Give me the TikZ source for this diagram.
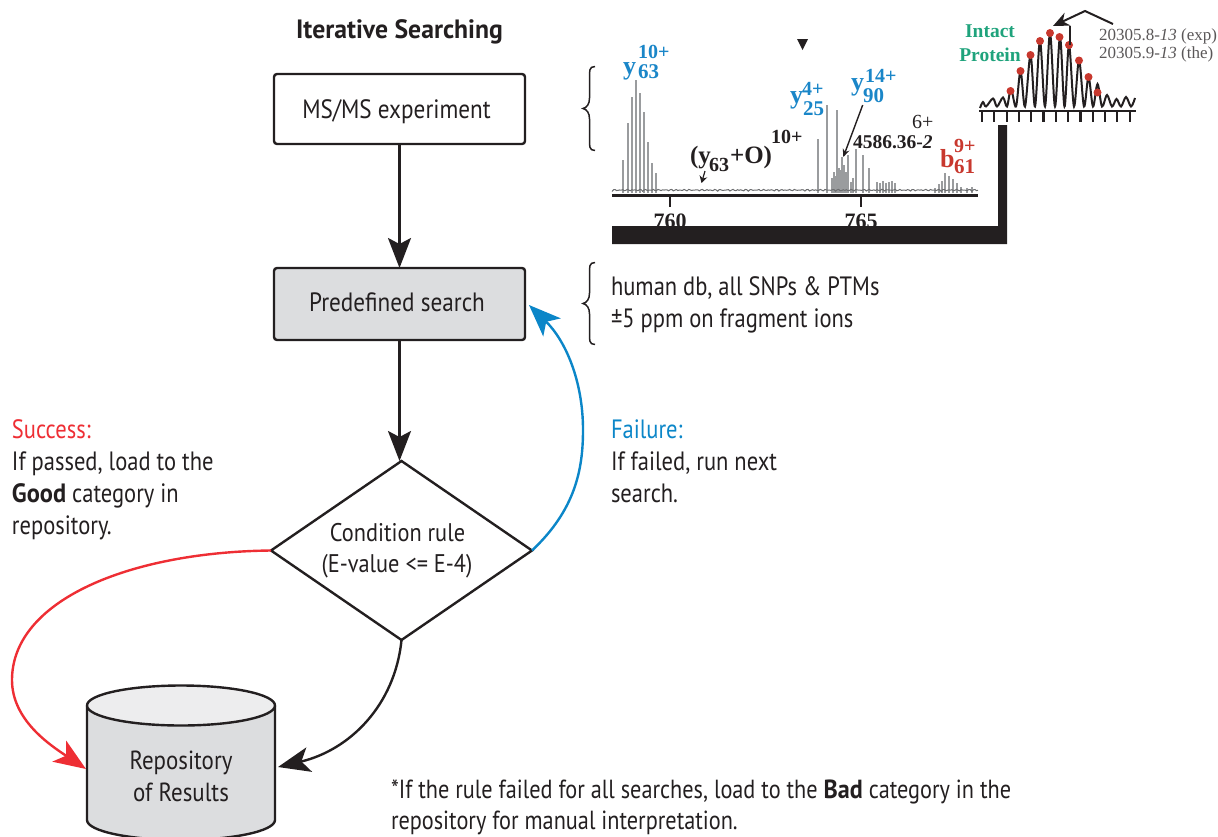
\documentclass[tikz,border=0pt]{standalone}
\usepackage{fontspec}
\usetikzlibrary{shapes.geometric,arrows.meta}
\setmainfont[FakeStretch=0.85,BoldFeatures={FakeStretch=0.92}]{PT Sans}
\newfontfamily\fb[FakeStretch=0.875]{PT Sans}
\newfontfamily\tb[FakeStretch=0.97]{PT Sans}
\newfontfamily\sr{Liberation Serif}
\definecolor{boxgray}{HTML}{DCDDDF}
\definecolor{lidgray}{HTML}{EDEDEE}
\definecolor{inkk}{HTML}{231F20}
\definecolor{redc}{HTML}{EE2E34}
\definecolor{bluec}{HTML}{0B86C8}
\definecolor{specblue}{HTML}{1A86C8}
\definecolor{specred}{HTML}{C8382E}
\definecolor{specgreen}{HTML}{1FA37C}
\definecolor{specgray}{HTML}{9A9C9E}
\tikzset{
 every node/.style={inner sep=0pt,outer sep=0pt,text=inkk},
 body/.style={font=\fontsize{26.5}{32}\selectfont,align=left,anchor=north west},
 flowbox/.style={draw=inkk,line width=2.4pt,rounded corners=3pt,font=\fb\fontsize{26.5}{32}\selectfont,minimum width=251pt},
 conn/.style={draw=inkk,line width=2.4pt,-{Stealth[length=30pt,width=23pt,inset=6pt]}},
 thinconn/.style={line width=2.4pt,-{Stealth[length=32pt,width=25pt,inset=8pt]}},
 bracel/.style={draw=inkk,line width=1.5pt},
 sb/.style={font=\sr\bfseries\fontsize{26}{26}\selectfont,anchor=base west},
 ss/.style={font=\sr\bfseries\fontsize{21}{21}\selectfont,anchor=base west},
 sc/.style={font=\sr\bfseries\fontsize{20}{20}\selectfont,anchor=base west},
 rb/.style={font=\sr\bfseries\fontsize{25}{25}\selectfont,anchor=base west},
 rs/.style={font=\sr\fontsize{20}{20}\selectfont,anchor=base west},
 peak/.style={draw=specgray,line width=1.8pt},
 dot/.style={fill=specred,draw=none}
}
\begin{document}
\begin{tikzpicture}[x=1pt,y=-1pt]
\useasboundingbox (0,0) rectangle (1218,836);
% flow
\node[font=\tb\bfseries\fontsize{26.5}{32}\selectfont] (title) at (399.5,32) {Iterative Searching};
\node[flowbox,minimum height=70pt,fill=white,text height=18pt,text depth=0pt] (ms) at (399.5,109) {\mbox{MS/MS experiment\hspace{6pt}}};
\node[flowbox,minimum height=72pt,fill=boxgray,text height=18pt,text depth=4pt] (pre) at (399.5,304) {\mbox{Predefined search\hspace{5pt}}};
\node[draw=inkk,line width=2.4pt,fill=white,diamond,aspect=1.46,minimum width=261pt,minimum height=179pt,align=center,font=\fb\fontsize{25.5}{31}\selectfont] (cond) at (401.5,550.5) {\mbox{Condition rule\hspace{8pt}}\\\mbox{(E-value <= E-4)\hspace{9pt}}};
% cylinder
\fill[boxgray] (87,705.5) -- (87,820) arc[start angle=180,end angle=360,x radius=94pt,y radius=20pt] -- (275,705.5) -- cycle;
\draw[inkk,line width=2.4pt] (87,705.5) -- (87,820) arc[start angle=180,end angle=360,x radius=94pt,y radius=20pt] -- (275,705.5);
\draw[inkk,line width=2.4pt,fill=lidgray] (181,705.5) ellipse[x radius=94pt,y radius=20pt];
\node[font=\fb\fontsize{26.2}{32}\selectfont,align=center] (repo) at (181,776) {Repository\\of Results};
\coordinate (repoW) at (86,769);
\coordinate (repoE) at (278,767);
% connectors
\draw[conn] (ms) -- (pre);
\draw[conn] (pre.south) -- (pre.south |- cond.north);
\draw[thinconn,redc] (cond.west) .. controls (130,552) and (12,600) .. (12,680) .. controls (12,720) and (50,745) .. (repoW);
\draw[thinconn,inkk] (cond.south) .. controls (395,705) and (350,750) .. (repoE);
\coordinate (preE) at (529,305);
\draw[thinconn,bluec] (cond.east) .. controls (575,510) and (583,470) .. (583,430) .. controls (583,380) and (565,340) .. (preE);
% text
\node[body,text=redc] (succ) at (12,419.5) {Success:};
\node[body] (succb) at (12,451.5) {If passed, load to the\\\textbf{Good} category in\\repository.};
\node[body,text=bluec] (fail) at (611,419.5) {Failure:};
\node[body] (failb) at (611,451.5) {If failed, run next\\search.};
\node[body] (db) at (611,276.5) {human db, all SNPs \& PTMs\\±5 ppm on fragment ions};
\node[body,font=\fontsize{26.2}{31.5}\selectfont] (note) at (391,779.5) {*If the rule failed for all searches, load to the \textbf{Bad} category in the\\repository for manual interpretation.};
% braces
\draw[bracel] (595,66.5) .. controls (589,66.5) and (589.5,71) .. (589.5,78) -- (589.5,98) .. controls (589.5,104) and (587,107.5) .. (583,108.5) .. controls (587,109.5) and (589.5,113) .. (589.5,119) -- (589.5,139) .. controls (589.5,146) and (589,150.5) .. (595,150.5);
\draw[bracel] (595,262.5) .. controls (589,262.5) and (589.5,267) .. (589.5,274) -- (589.5,293) .. controls (589.5,299) and (587,302.5) .. (583,303.5) .. controls (587,304.5) and (589.5,308) .. (589.5,314) -- (589.5,333) .. controls (589.5,340) and (589,344.5) .. (595,344.5);
% left spectrum
\foreach \x/\t in {623.3/160,627.7/123,632/97,636/80,640/93,644/112,648.3/142,652.3/163,656/173,817.7/139,827/105,837/110,842/157,848.3/155,856/149,863.3/155,869.3/168}
  \draw[peak] (\x,193) -- (\x,\t);
\foreach \x/\t in {832/178,834/172,836/176,839/168,841/170,844/165,846/172,851/182,853/178,877/182,880/183,883/181,886/183,889/182,892/181,895/183,935/188,939/184,942/181,945/173,949/176,953/179,957/183,961/187,967/188,972/187}
  \draw[draw=specgray,line width=1.4pt] (\x,193) -- (\x,\t);
\draw[specgray!70!black,line width=1pt] plot[domain=612:978,samples=240] (\x,{191.5-1.2*abs(sin((\x-612)*41))-1*abs(sin((\x-612)*29))});
\draw[inkk,line width=2.2pt] (612,195.5) -- (978,195.5);
\draw[inkk,line width=2pt] (670,196) -- (670,207);
\draw[inkk,line width=2pt] (861,196) -- (861,207);
\node[font=\sr\bfseries\fontsize{22}{22}\selectfont,anchor=base] (t760) at (670,228) {760};
\node[font=\sr\bfseries\fontsize{22}{22}\selectfont,anchor=base] (t765) at (861,228) {765};
\fill[inkk] (612,226) -- (998,226) -- (998,125) -- (1007,125) -- (1007,244) -- (612,244) -- cycle;
\fill[inkk] (797,39) -- (808,39) -- (802.5,50) -- cycle;
% labels
\node[sb,text=specblue] (y1) at (623,74) {y};
\node[ss,text=specblue] (y1s) at (638,78) {63};
\node[sc,text=specblue] (y1c) at (638,58) {10+};
\node[sb,text=specblue] (y2) at (790,103) {y};
\node[ss,text=specblue] (y2s) at (803,115) {25};
\node[sc,text=specblue] (y2c) at (802,95) {4+};
\node[sb,text=specblue] (y3) at (851,90) {y};
\node[ss,text=specblue] (y3s) at (863,102) {90};
\node[sc,text=specblue] (y3c) at (865,82) {14+};
\node[rb] (o1) at (690,163) {(y};
\node[sc] (o2) at (709,171) {63};
\node[rb] (o3) at (730,163) {+O)};
\node[sc] (o4) at (771,143) {10+};
\node[sc,font=\sr\bfseries\fontsize{19.5}{20}\selectfont] (m1) at (853,148) {4586.36-\textit{2}};
\node[rs] (m2) at (912,128) {6+};
\node[sb,text=specred] (b1) at (940,167) {b};
\node[ss,text=specred] (b1s) at (954,173) {61};
\node[sc,text=specred] (b1c) at (954,152) {9+};
\coordinate (a1) at (862.7,105); \coordinate (a2) at (843.3,157);
\draw[inkk,line width=1.4pt,-{Stealth[length=8pt,width=7pt]}] (a1) -- (a2);
\coordinate (a3) at (705,171); \coordinate (a4) at (701.5,183);
\draw[inkk,line width=1.2pt,-{Stealth[length=7pt,width=8pt]}] (a3) -- (a4);
% right spectrum
\draw[inkk,line width=2pt] plot[smooth,tension=.55] coordinates {(980,108) (983,102) (986,106.5) (993,98.5) (997,106.5) (1003,97.5) (1007,106.5) (1011,89) (1016,106.5) (1020.5,71) (1025,106.5) (1030.5,55) (1035,106.5) (1040,41) (1045,106.5) (1050,33) (1055,106.5) (1060,37) (1064.5,106.5) (1069,45) (1074,106.5) (1079,60) (1084,106.5) (1088.5,77) (1093,106.5) (1097.5,84) (1102,106.5) (1107,95) (1112,106.5) (1116.5,99) (1121,106.5) (1126,97) (1131,106.5) (1135,98)};
\draw[inkk,line width=2.4pt] (979,111) -- (1136,111);
\foreach \i in {0,...,12}
  \draw[inkk,line width=2.2pt] ({982+\i*12.3},111) -- ({982+\i*12.3},122);
\foreach \x/\y in {1010.5/91,1020.5/71,1030.5/55,1040/41,1050/33,1059.5/37,1069/45,1079/60.5,1088.5/77,1097.5/92.5}
  \fill[dot] (\x,\y) circle[radius=4pt];
\coordinate (b1p) at (1113,24); \coordinate (b2p) at (1085,11); \coordinate (b3p) at (1053,26);
\draw[inkk,line width=2pt,-{Stealth[length=16pt,width=14pt]}] (b1p) -- (b2p) -- (b3p);
\draw[inkk,line width=1.6pt] (1070,26) -- (1070,45);
\node[font=\sr\bfseries\fontsize{19.5}{24}\selectfont,text=specgreen,align=center] (intact) at (990,43) {Intact\\Protein};
\node[font=\sr\fontsize{17}{18}\selectfont,text=inkk!75,align=left,anchor=west] (vals) at (1099,45) {20305.8-\textit{13} (exp)\\20305.9-\textit{13} (the)};
\end{tikzpicture}
\end{document}
